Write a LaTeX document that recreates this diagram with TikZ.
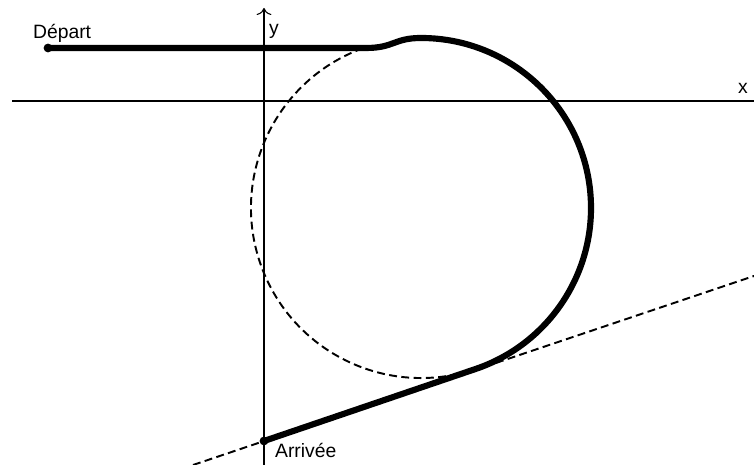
\documentclass[tikz,border=0pt]{standalone}
\usepackage{fontspec}
\setmainfont{Liberation Sans}
\usetikzlibrary{arrows.meta, positioning}

\begin{document}
\begin{tikzpicture}[
    x=0.02cm, y=0.02cm,
    axis/.style={line width=0.6pt},
    track/.style={line width=3.5pt, line cap=round, line join=round},
    guide/.style={line width=1.1pt, dash pattern=on 4.5pt off 2.5pt},
    endpoint/.style={circle, fill=black, inner sep=0pt, minimum size=5pt},
    tag/.style={font=\fontsize{11}{13}\selectfont, inner sep=1pt}
]
\useasboundingbox (0,0) rectangle (754,465);

% axes
\coordinate (xl) at (12,364);
\coordinate (xr) at (754,364);
\coordinate (yb) at (264,0);
\coordinate (yt) at (264,457);
\draw[axis] (xl) -- (xr);
\draw[axis, -{To[length=4pt]}] (yb) -- (yt);
\node[tag] (xlab) at (743,377) {x};
\node[tag] (ylab) at (274,434) {y};

% cercle et tangente en pointilles
\coordinate (O) at (421,257);
\coordinate (tl) at (193,0);
\coordinate (tr) at (754,189);
\draw[guide] ([shift={(110:170)}]O) arc[start angle=110, end angle=290, radius=170];
\draw[guide] (tl) -- (tr);

% trajectoire
\coordinate (depart) at (48,417);
\coordinate (arrivee) at (264,24);
\coordinate (t1) at (366,417);
\draw[track] (depart) -- (t1) .. controls (394,417) and (394,427) .. ([shift={(90:170)}]O)
    arc[start angle=90, end angle=-71.4, radius=170] -- (arrivee);

\node[endpoint] (dep) at (depart) {};
\node[endpoint] (arr) at (arrivee) {};
\node[tag, anchor=base west] (depl) at (31,426) {Départ};
\node[tag, anchor=base west] (arrl) at (273,7) {Arrivée};

\end{tikzpicture}
\end{document}
